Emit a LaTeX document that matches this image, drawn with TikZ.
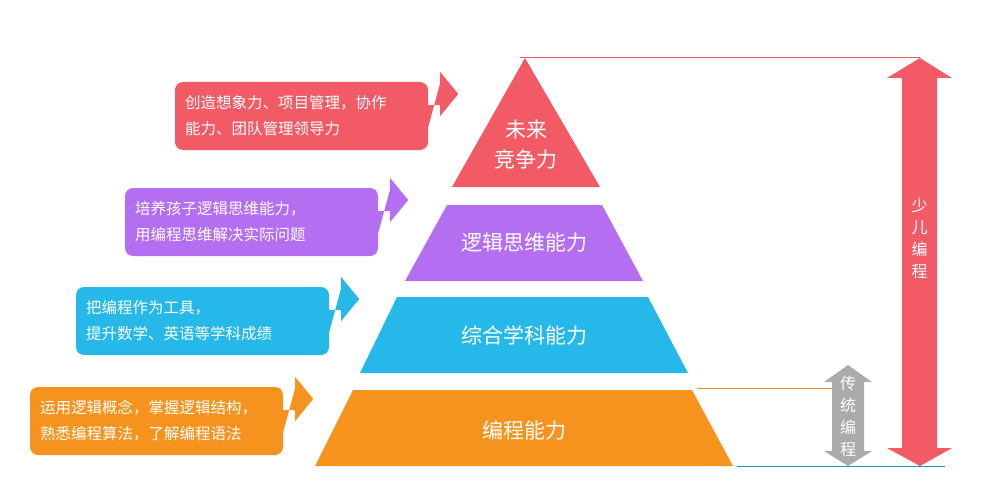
\documentclass[tikz,border=0pt]{standalone}
\usepackage{fontspec}
\setmainfont{Noto Sans CJK SC}
\usetikzlibrary{positioning}

\definecolor{cred}{HTML}{F25A66}
\definecolor{cpurple}{HTML}{B36EF2}
\definecolor{cblue}{HTML}{25B8E8}
\definecolor{corange}{HTML}{F5931E}
\definecolor{cgrey}{HTML}{ABABAB}

\tikzset{
    layer/.style={white, font=\fontsize{21}{24}\selectfont},
    callout/.style={fill=#1, rounded corners=8pt, minimum width=253pt, minimum height=68pt,
        text=white, align=left, font=\fontsize{15.5}{26}\selectfont, text width=233pt},
    vtext/.style={white, align=center, font=\fontsize{16}{22}\selectfont}
}

\newcommand{\callarrow}[2]{% node, colour
    \fill [#2] ([yshift=11pt]#1.east) -- ++(12,0) -- ++(0,11) -- ++(18,-22) -- ++(-18,-22) -- ++(0,11) -- ([yshift=-11pt]#1.east) -- cycle;
}

\begin{document}
\begin{tikzpicture}[x=1pt, y=-1pt]
    \useasboundingbox (0,0) rectangle (1007,495);

    % pyramid
    \fill [cred] (525,58) -- (600,187) -- (452,187) -- cycle;
    \fill [cpurple] (447,205) -- (602,205) -- (643,281) -- (405,281) -- cycle;
    \fill [cblue] (397,297) -- (648,297) -- (688,373) -- (360,373) -- cycle;
    \fill [corange] (353,390) -- (692,390) -- (733,466) -- (315,466) -- cycle;

    \node [layer, align=center, font=\fontsize{21}{30}\selectfont] (top) at (526,145) {未来\\竞争力};
    \node [layer] (logic) at (524,243) {逻辑思维能力};
    \node [layer] (subject) at (524,335) {综合学科能力};
    \node [layer] (coding) at (524,430) {编程能力};

    % callouts
    \node [callout=cred] (c1) at (301.5,116) {创造想象力、项目管理，协作\\能力、团队管理领导力};
    \node [callout=cpurple] (c2) at (251.5,222) {培养孩子逻辑思维能力，\\用编程思维解决实际问题};
    \node [callout=cblue] (c3) at (202.5,321) {把编程作为工具，\\提升数学、英语等学科成绩};
    \node [callout=corange] (c4) at (156.5,421) {运用逻辑概念，掌握逻辑结构，\\熟悉编程算法，了解编程语法};
    \callarrow{c1}{cred}
    \callarrow{c2}{cpurple}
    \callarrow{c3}{cblue}
    \callarrow{c4}{corange}

    % guide lines
    \coordinate (topL) at (520,57.5);
    \coordinate (topR) at (920,57.5);
    \coordinate (midL) at (697,388);
    \coordinate (midR) at (835,388);
    \coordinate (botL) at (737,466.5);
    \coordinate (botR) at (945,466.5);
    \draw [cred, line width=0.6pt] (topL) -- (topR);
    \draw [corange!70!brown, line width=0.6pt] (midL) -- (midR);
    \draw [cblue!80!black, line width=0.6pt] (botL) -- (botR);

    % double arrows
    \fill [cred] (920,58) -- (952,78) -- (937,78) -- (937,448) -- (952,448) -- (920,466)
        -- (887,448) -- (902,448) -- (902,78) -- (887,78) -- cycle;
    \node [vtext] (kids) at (919.5,238) {少\\儿\\编\\程};
    \fill [cgrey] (848,365) -- (872,382) -- (864,382) -- (864,451) -- (872,451) -- (848,466)
        -- (824,451) -- (832,451) -- (832,382) -- (824,382) -- cycle;
    \node [vtext] (trad) at (848,416) {传\\统\\编\\程};
\end{tikzpicture}
\end{document}
